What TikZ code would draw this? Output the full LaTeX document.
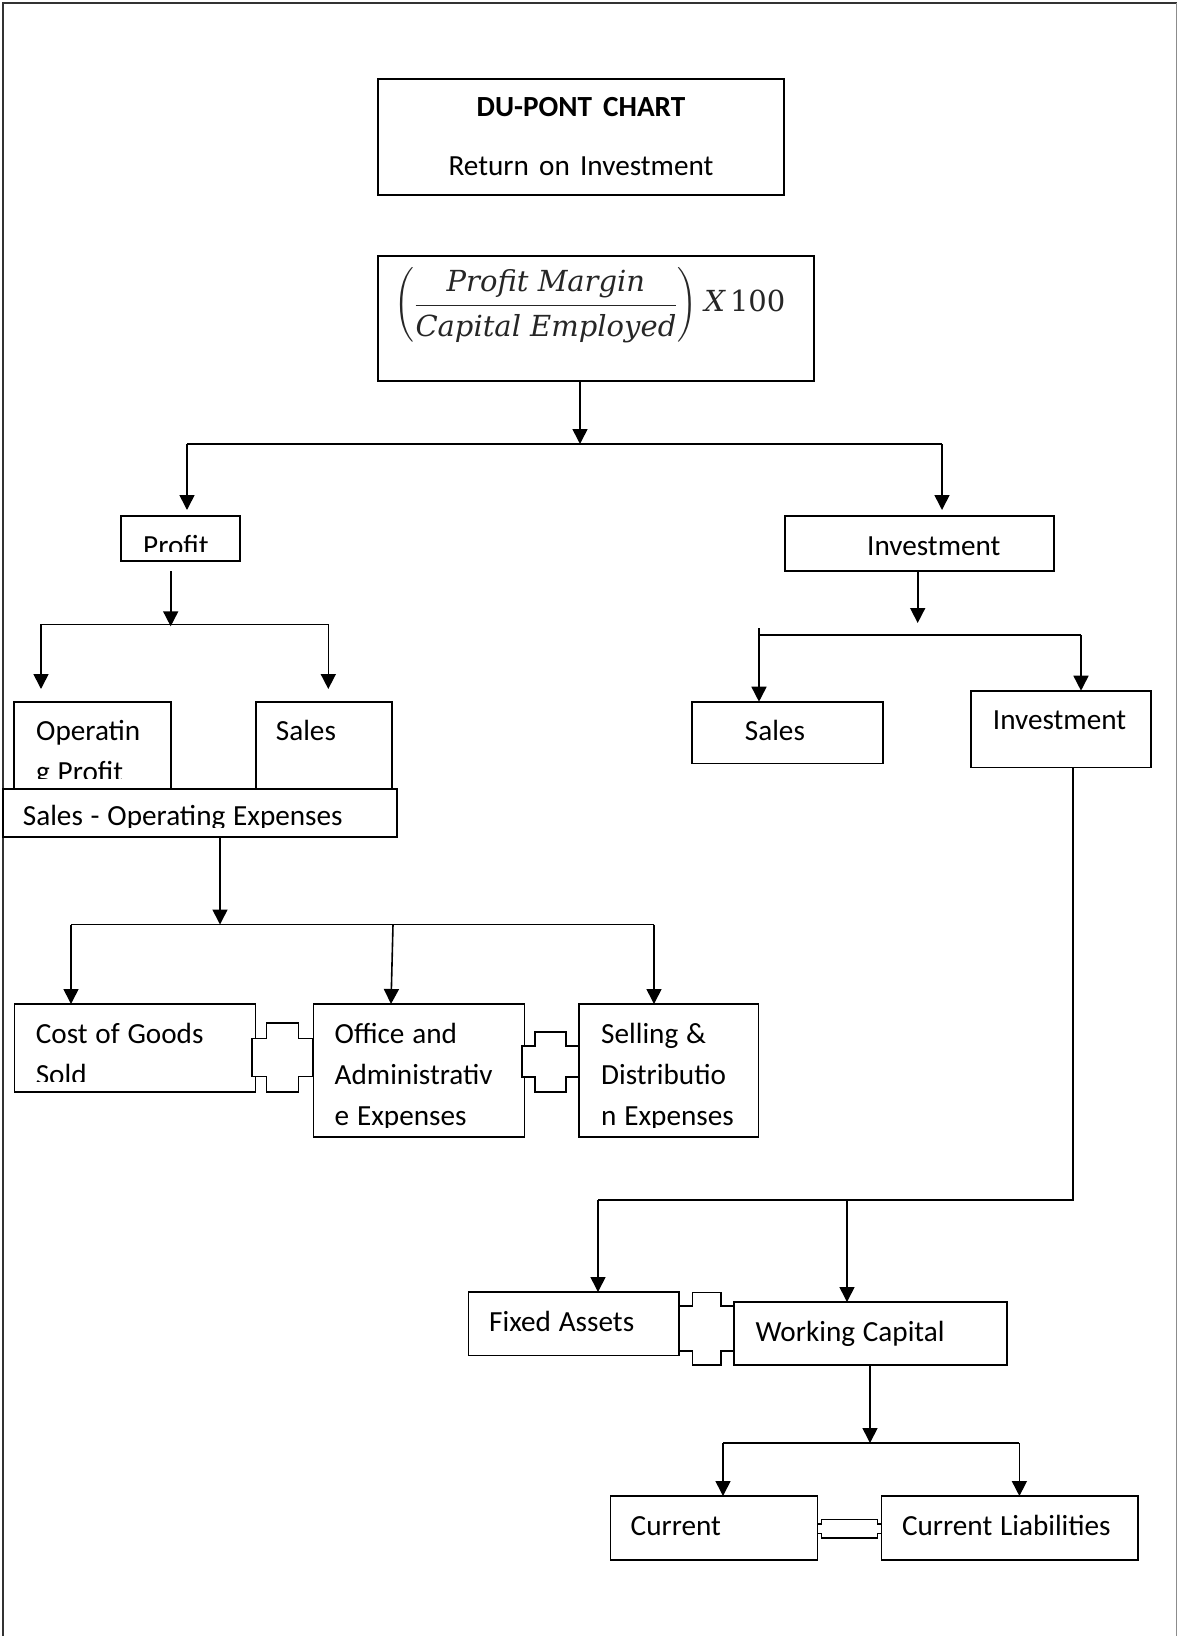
\documentclass[tikz,border=0pt]{standalone}
\usepackage{amsmath}
\usepackage{fontspec}
\setmainfont{Carlito}
\newfontfamily\formulafont{DejaVu Serif}
\usetikzlibrary{arrows.meta, calc}

\newcommand{\tightspace}{\spaceskip=7.8pt plus 2pt minus 1pt\relax}

% plus-shaped joint between two boxes: centre x, centre y, width, height, bar width, bar height
\newcommand{\pluslink}[6]{%
  \draw[plus] ({#1-#3/2},{#2-#6/2}) -- ({#1-#5/2},{#2-#6/2}) -- ({#1-#5/2},{#2-#4/2})
    -- ({#1+#5/2},{#2-#4/2}) -- ({#1+#5/2},{#2-#6/2}) -- ({#1+#3/2},{#2-#6/2})
    -- ({#1+#3/2},{#2+#6/2}) -- ({#1+#5/2},{#2+#6/2}) -- ({#1+#5/2},{#2+#4/2})
    -- ({#1-#5/2},{#2+#4/2}) -- ({#1-#5/2},{#2+#6/2}) -- ({#1-#3/2},{#2+#6/2}) -- cycle;}

\begin{document}
\begin{tikzpicture}[
    x=1pt, y=-1pt,
    every node/.style={font=\fontsize{29.2}{41}\selectfont},
    box/.style={rectangle, draw=black, line width=1.6pt, fill=white, anchor=north west, inner sep=0pt, outer sep=0pt},
    txt/.style={anchor=base west, inner sep=0pt, text width=12cm, execute at begin node=\tightspace},
    link/.style={line width=1.6pt},
    arrow/.style={-{Triangle[width=15pt,length=15pt]}, line width=1.6pt},
    plus/.style={draw=black, line width=1.6pt, fill=white},
    frame/.style={draw=black!80, line width=2pt}
]
\useasboundingbox (0,0) rectangle (1178,1636);

% --- page frame ---
\draw[frame] (2.5,1636) -- (2.5,2.5) -- (1176.5,2.5);
\draw[frame, draw=black!45, line width=1pt] (1176.5,2.5) -- (1176.5,1636);

% --- title and formula ---
\node[box, minimum width=406pt, minimum height=116pt] (title) at (378,79) {};
\node[anchor=base, inner sep=0pt, text width=406pt, align=center] (titleT)
      at ([yshift=-37.7pt]title.north) {\tightspace{\bfseries DU-PONT CHART}\\[17.3pt]Return on Investment};

\node[box, minimum width=436pt, minimum height=125pt] (roi) at (378,256) {};
\node[anchor=base, inner sep=0pt, text=black!85, font=\fontsize{29}{35}\selectfont] (roiT) at (590,311.5)
      {$\displaystyle\left(\genfrac{}{}{1.5pt}{0}{\hbox{\formulafont\itshape\vrule width0pt depth8.75pt Profit Margin}}{\hbox{\formulafont\itshape\vrule width0pt height25.75pt Capital Employed}}\right)\hbox{\formulafont\hspace{3pt}\itshape X\hspace{5pt}\upshape 100}$};

% --- first split ---
\node[box, minimum width=119pt, minimum height=45pt] (profit) at (121,516) {};
\begin{scope}
  \clip (profit.north west) rectangle ([yshift=10pt]profit.south east);
  \node[txt] (profitT) at ([xshift=22pt,yshift=-39pt]profit.north west) {Profit};
\end{scope}

\node[box, minimum width=269pt, minimum height=55pt] (invest) at (785,516) {};
\node[txt] (investT) at ([xshift=82pt,yshift=-39pt]invest.north west) {Investment};

\coordinate (top) at (580,444);
\coordinate (topL) at (187,444);
\coordinate (topR) at (942,444);
\draw[arrow] (top |- roi.south) -- (top);
\draw[link] (topL) -- (topR);
\draw[arrow, shorten >=6pt] (topL) -- (topL |- profit.north);
\draw[arrow, shorten >=6pt] (topR) -- (topR |- invest.north);

% --- profit side ---
\node[box, minimum width=157pt, minimum height=88pt] (opprofit) at (14,701.7) {};
\begin{scope}
  \clip (opprofit.north west) rectangle ([yshift=11pt]opprofit.south east);
  \node[txt] (opprofitT) at ([xshift=22pt,yshift=-39pt]opprofit.north west) {Operatin\\g Profit};
\end{scope}

\node[box, minimum width=136.3pt, minimum height=88pt] (salesL) at (255.7,701.7) {};
\node[txt] (salesLT) at ([xshift=20pt,yshift=-39pt]salesL.north west) {Sales};

\node[box, minimum width=394.3pt, minimum height=48.3pt] (salesopex) at (2.7,788.7) {};
\begin{scope}
  \clip (salesopex.north west) rectangle ([yshift=10pt]salesopex.south east);
  \node[txt] (salesopexT) at ([xshift=20pt,yshift=-37pt]salesopex.north west) {Sales - Operating Expenses};
\end{scope}

\coordinate (pSplit) at (170.7,624.3);
\coordinate (pL) at (41,624.3);
\coordinate (pR) at (328.3,624.3);
\draw[arrow, shorten <=10pt, shorten >=-2pt] (profit.south -| pSplit) -- (pSplit);
\draw[link] (pL) -- (pR);
\draw[arrow, shorten >=12.7pt] (pL) -- (pL |- opprofit.north);
\draw[arrow, shorten >=12.7pt] (pR) -- (pR |- salesL.north);

% --- expenses row ---
\node[box, minimum width=241pt, minimum height=88pt] (cogs) at (14.6,1004) {};
\begin{scope}
  \clip (cogs.north west) rectangle ([yshift=11pt]cogs.south east);
  \node[txt] (cogsT) at ([xshift=21pt,yshift=-39pt]cogs.north west) {Cost of Goods\\Sold};
\end{scope}

\pluslink{282.5}{1057.5}{61}{69}{32}{38}

\node[box, minimum width=211pt, minimum height=133pt] (officeexp) at (313.5,1004) {};
\begin{scope}
  \clip (officeexp.north west) rectangle ([yshift=10pt]officeexp.south east);
  \node[txt] (officeexpT) at ([xshift=21pt,yshift=-39pt]officeexp.north west) {Office and\\Administrativ\\e Expenses};
\end{scope}

\pluslink{550.5}{1061.7}{57}{60}{30.5}{31}

\node[box, minimum width=179.5pt, minimum height=133pt] (sellexp) at (579,1004) {};
\begin{scope}
  \clip (sellexp.north west) rectangle ([yshift=10pt]sellexp.south east);
  \node[txt] (sellexpT) at ([xshift=22pt,yshift=-39pt]sellexp.north west) {Selling \&\\Distributio\\n Expenses};
\end{scope}

\coordinate (oSplit) at (220,924.5);
\coordinate (oL) at (71,924.5);
\coordinate (oM) at (393,924.5);
\coordinate (oR) at (654,924.5);
\draw[arrow] (salesopex.south -| oSplit) -- (oSplit);
\draw[link] (oL) -- (oR);
\draw[arrow] (oL) -- (oL |- cogs.north);
\draw[arrow] (oM) -- ([xshift=-2pt]oM |- officeexp.north);
\draw[arrow] (oR) -- (oR |- sellexp.north);

% --- investment side ---
\node[box, minimum width=191pt, minimum height=61.6pt] (salesR) at (691.7,701.7) {};
\node[txt] (salesRT) at ([xshift=53pt,yshift=-39pt]salesR.north west) {Sales};

\node[box, minimum width=179.7pt, minimum height=76.6pt] (investB) at (971,690.7) {};
\node[txt] (investBT) at ([xshift=21.7pt,yshift=-39pt]investB.north west) {Investment};

\coordinate (iSplit) at (917.7,635);
\coordinate (iL) at (759,635);
\coordinate (iR) at (1081,635);
\draw[arrow] (invest.south -| iSplit) -- ([yshift=12pt]iSplit);
\draw[link] (iL) -- (iR);
\draw[arrow] ([yshift=7pt]iL) -- (iL |- salesR.north);
\draw[arrow] (iR) -- (iR |- investB.north);

% --- assets ---
\node[box, minimum width=210.5pt, minimum height=63.5pt] (fixed) at (468.5,1292) {};
\node[txt] (fixedT) at ([xshift=20.5pt,yshift=-39pt]fixed.north west) {Fixed Assets};

\pluslink{706.5}{1328.5}{55}{72.4}{28.4}{44.6}

\node[box, minimum width=273pt, minimum height=63pt] (wcap) at (734,1302) {};
\node[txt] (wcapT) at ([xshift=21.5pt,yshift=-39pt]wcap.north west) {Working Capital};

\coordinate (aCorner) at (1072.7,1200);
\coordinate (aL) at (598,1200);
\coordinate (aM) at (847,1200);
\draw[link] (investB.south -| aCorner) -- (aCorner) -- (aL);
\draw[arrow] (aL) -- (aL |- fixed.north);
\draw[arrow] (aM) -- (aM |- wcap.north);

% --- working capital ---
\node[box, minimum width=207pt, minimum height=64pt] (current) at (610.5,1496) {};
\node[txt] (currentT) at ([xshift=20pt,yshift=-39pt]current.north west) {Current};

\pluslink{849.6}{1528.7}{64}{18.6}{56}{9.5}

\node[box, minimum width=256.5pt, minimum height=64pt] (curliab) at (881.3,1496) {};
\node[txt] (curliabT) at ([xshift=20.5pt,yshift=-39pt]curliab.north west) {Current Liabilities};

\coordinate (wSplit) at (870,1443);
\coordinate (wL) at (723,1443);
\coordinate (wR) at (1019.4,1443);
\draw[arrow] (wcap.south -| wSplit) -- (wSplit);
\draw[link] (wL) -- (wR);
\draw[arrow] (wL) -- (wL |- current.north);
\draw[arrow] (wR) -- (wR |- curliab.north);

\end{tikzpicture}
\end{document}
